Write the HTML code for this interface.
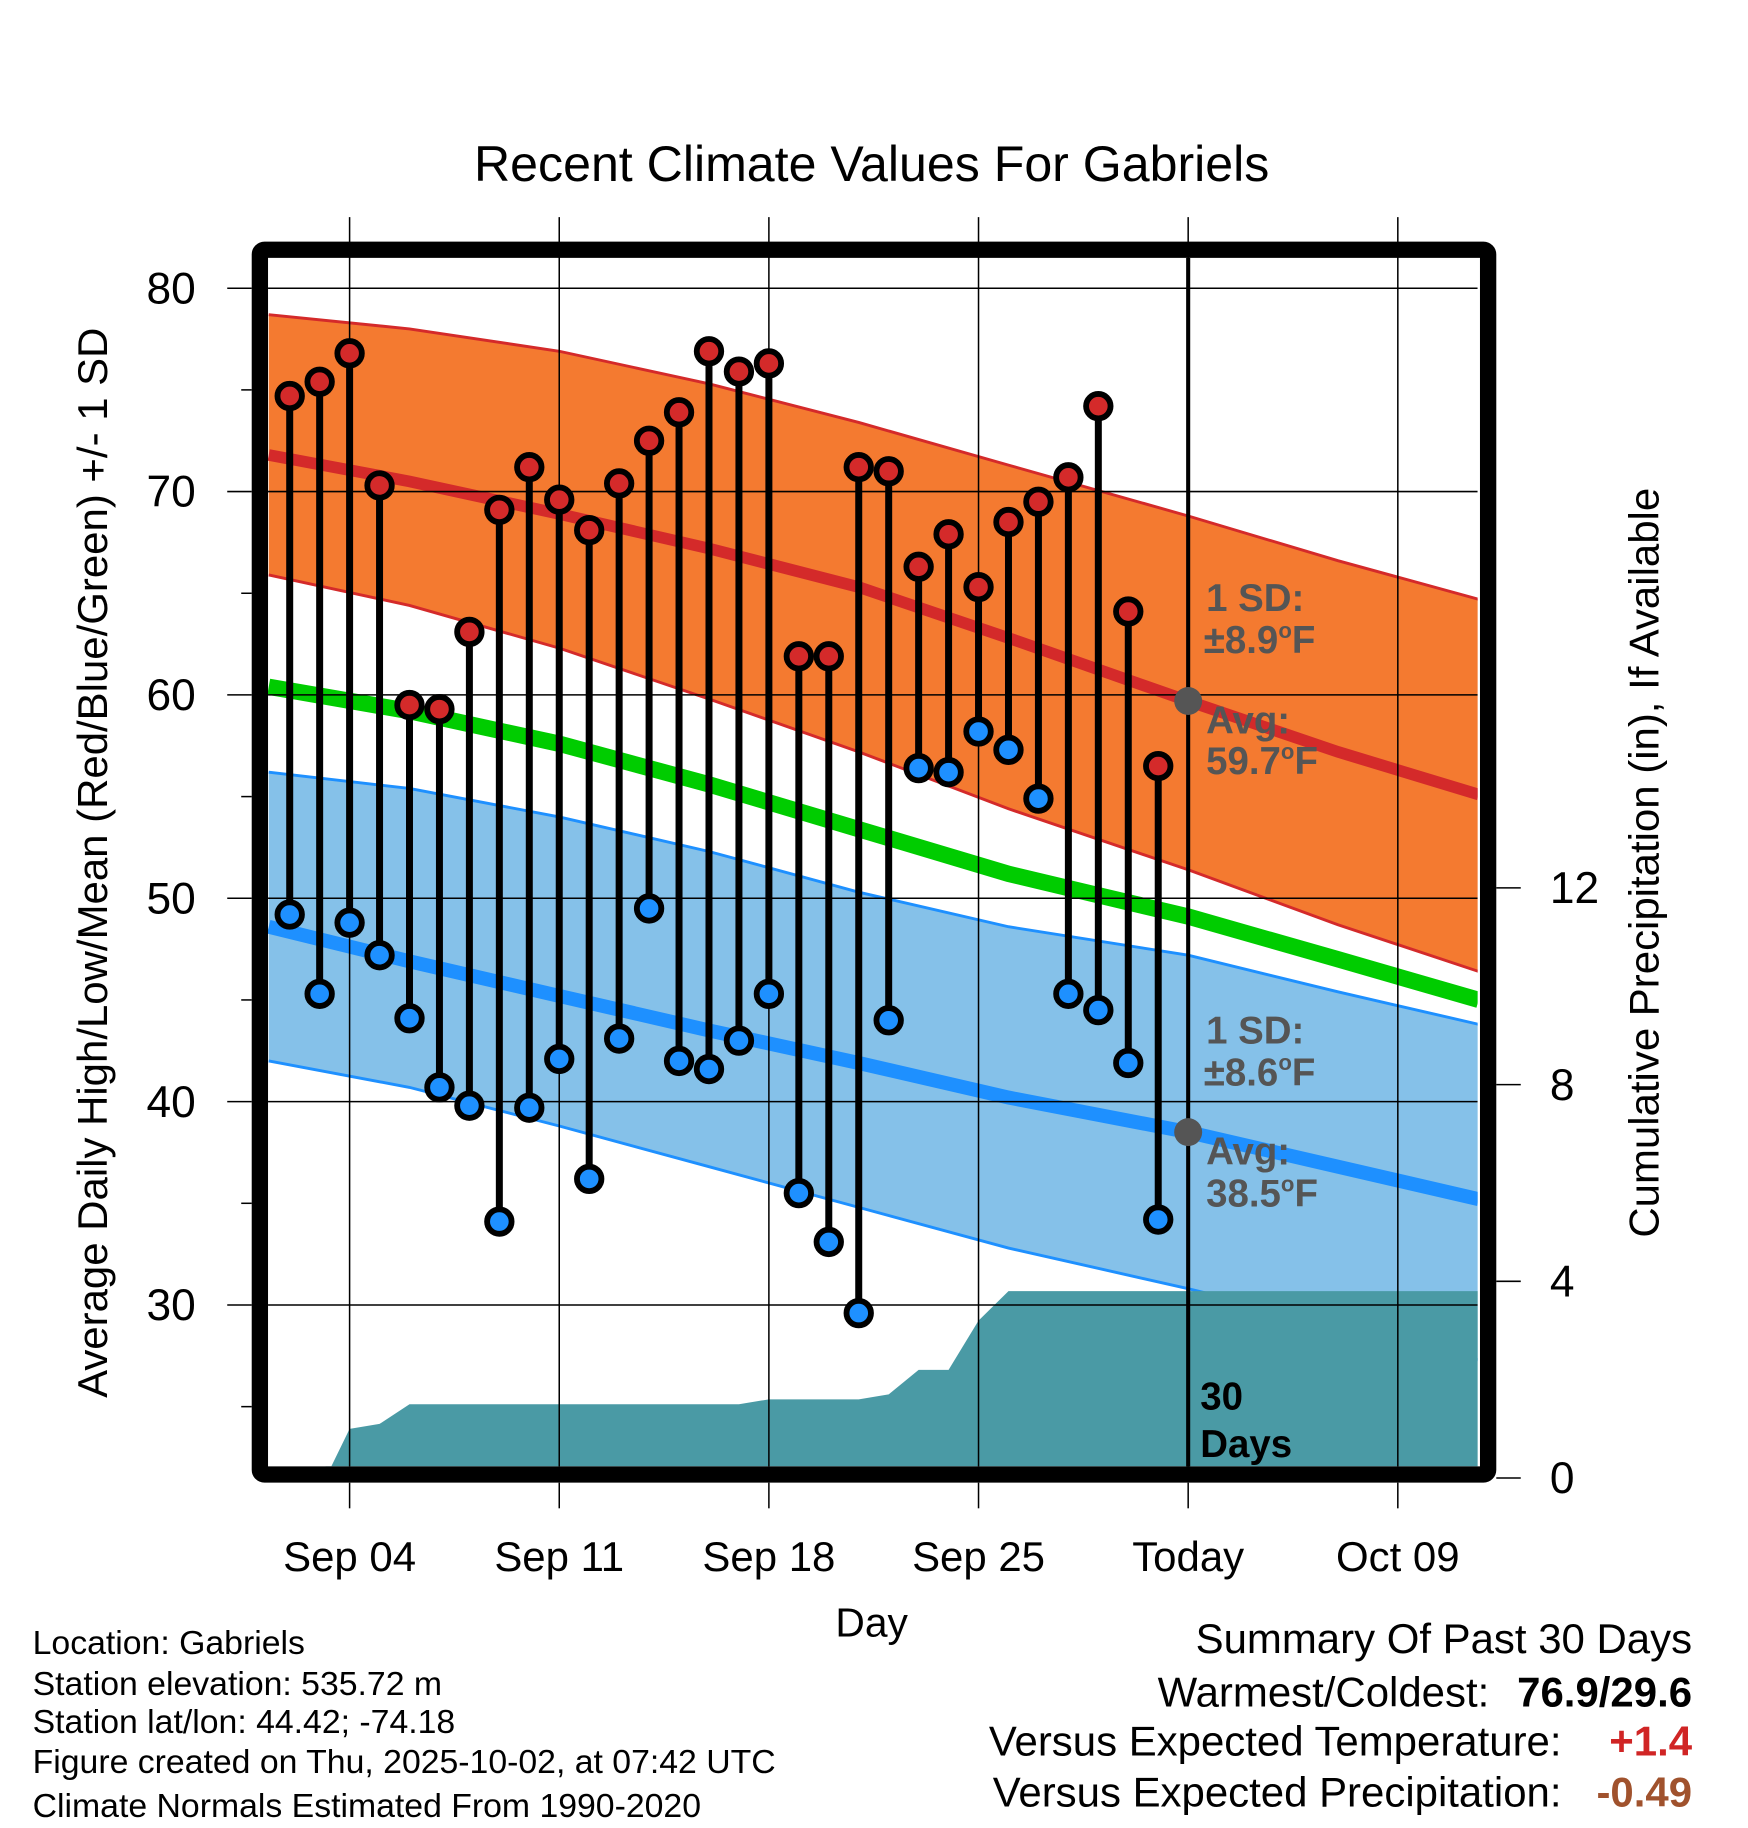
<!DOCTYPE html>
<html><head><meta charset="utf-8"><style>
html,body{margin:0;padding:0;background:#fff;}
svg{display:block;font-family:"Liberation Sans",sans-serif;}
</style></head><body>
<svg id="chart" width="1748" height="1828" viewBox="0 0 1500 1568" xmlns="http://www.w3.org/2000/svg">
<rect width="1500" height="1568" fill="#fff"/>
<text x="748" y="155" font-size="43" text-anchor="middle">Recent Climate Values For Gabriels</text>
<g id="plot"></g>
<text transform="translate(92,740) rotate(-90)" font-size="36" text-anchor="middle">Average Daily High/Low/Mean (Red/Blue/Green) +/- 1 SD</text>
<text transform="translate(1423,740) rotate(-90)" font-size="36" text-anchor="middle">Cumulative Precipitation (in), If Available</text>
<text x="748" y="1404" font-size="35" text-anchor="middle">Day</text>
<g font-size="29">
<text x="28" y="1419">Location: Gabriels</text>
<text x="28" y="1454">Station elevation: 535.72 m</text>
<text x="28" y="1487">Station lat/lon: 44.42; -74.18</text>
<text x="28" y="1521">Figure created on Thu, 2025-10-02, at 07:42 UTC</text>
<text x="28" y="1559">Climate Normals Estimated From 1990-2020</text>
</g>
<g font-size="36">
<text x="1452" y="1418" text-anchor="end">Summary Of Past 30 Days</text>
<text x="1278" y="1464" text-anchor="end">Warmest/Coldest:</text>
<text x="1452" y="1464" text-anchor="end" font-weight="bold">76.9/29.6</text>
<text x="1340" y="1506" text-anchor="end">Versus Expected Temperature:</text>
<text x="1452" y="1506" text-anchor="end" font-weight="bold" fill="#d02525">+1.4</text>
<text x="1340" y="1550" text-anchor="end">Versus Expected Precipitation:</text>
<text x="1452" y="1550" text-anchor="end" font-weight="bold" fill="#a0522d">-0.49</text>
</g>
</svg>
<script>
// data (day index: Sep 1 = 0)
const obsDays = [1,2,3,4,5,6,7,8,9,10,11,12,13,14,15,16,17,18,19,20,21,22,23,24,25,26,27,28,29,30];
const highs = [74.7,75.4,76.8,70.3,59.5,59.3,63.1,69.1,71.2,69.6,68.1,70.4,72.5,73.9,76.9,75.9,76.3,61.9,61.9,71.2,71.0,66.3,67.9,65.3,68.5,69.5,70.7,74.2,64.1,56.5];
const lows = [49.2,45.3,48.8,47.2,44.1,40.7,39.8,34.1,39.7,42.1,36.2,43.1,49.5,42.0,41.6,43.0,45.3,35.5,33.1,29.6,44.0,56.4,56.2,58.2,57.3,54.9,45.3,44.5,41.9,34.2];
const normDays = [0.3,5,10,15,20,25,31,36,40.7];
const highUpper = [78.7,78.0,76.9,75.3,73.4,71.3,68.8,66.6,64.7];
const highMean = [71.8,70.5,68.9,67.2,65.3,62.8,59.7,57.2,55.1];
const highLower = [65.9,64.4,62.3,59.8,57.2,54.4,51.4,48.7,46.4];
const meanTemp = [60.4,59.2,57.6,55.6,53.4,51.2,49.1,47.0,45.0];
const lowUpper = [56.2,55.4,54.0,52.3,50.3,48.6,47.2,45.4,43.8];
const lowMean = [48.6,46.9,45.2,43.5,41.9,40.2,38.5,36.8,35.2];
const lowLower = [42.0,40.7,38.8,36.8,34.8,32.8,30.8,29.0,27.3];
const precipDays = [2.2,3,4,5,16,17,20,21,22,23,24,25,40.7];
const precipVals = [0,1.0,1.1,1.5,1.5,1.6,1.6,1.7,2.2,2.2,3.2,3.8,3.8];
const xTickDays = [3,10,17,24,31,38];
const xTickLabels = ["Sep 04","Sep 11","Sep 18","Sep 25","Today","Oct 09"];
const yTicks = [30,40,50,60,70,80];
const yMinor = [25,35,45,55,65,75];
const y2Ticks = [0,4,8,12];

const NS="http://www.w3.org/2000/svg";
const g=document.getElementById('plot');
const L=230,R=1268,T=221,B=1258;
const X=d=>300+(d-3)*25.7;
const Y=v=>247+(80-v)*17.45;
const Y2=v=>1268-v*42.2;
function el(t,a,p){const e=document.createElementNS(NS,t);for(const k in a)e.setAttribute(k,a[k]);(p||g).appendChild(e);return e;}
const clip=el('clipPath',{id:'cp'});el('rect',{x:L,y:T,width:R-L,height:B-T},clip);
const inner=el('g',{'clip-path':'url(#cp)'});
function pts(ds,vs){return ds.map((d,i)=>X(d)+','+Y(vs[i]));}
function band(up,lo,fill,edge,name){
  const p=pts(normDays,up).concat(pts(normDays,lo).reverse()).join(' ');
  const b=el('polygon',{points:p,fill:fill},inner);
  
  
  el('polyline',{points:pts(normDays,up).join(' '),fill:'none',stroke:edge,'stroke-width':2.5},inner);
  el('polyline',{points:pts(normDays,lo).join(' '),fill:'none',stroke:edge,'stroke-width':2.5},inner);
}
band(highUpper,highLower,'#f47a30','#d42a2a','high-sd-band');
band(lowUpper,lowLower,'#85c1e9','#1e90ff','low-sd-band');
function line(vs,c,w,name){const l=el('polyline',{points:pts(normDays,vs).join(' '),fill:'none',stroke:c,'stroke-width':w},inner);
  
  }
line(highMean,'#d42a2a',10,'normal-high-line');
line(meanTemp,'#00cc00',14,'normal-mean-line');
line(lowMean,'#1e90ff',12,'normal-low-line');
// precip
let pp=[X(precipDays[0])+','+B];
precipDays.forEach((d,i)=>pp.push(X(d)+','+Y2(precipVals[i])));
pp.push(X(precipDays[precipDays.length-1])+','+B);
const pa=el('polygon',{points:pp.join(' '),fill:'#4a9aa5'},inner);


// grid
yTicks.forEach(v=>{el('line',{x1:L,x2:R,y1:Y(v),y2:Y(v),stroke:'#000','stroke-width':1.3},inner);
  el('line',{x1:195,x2:216,y1:Y(v),y2:Y(v),stroke:'#000','stroke-width':1.3});
  const t=el('text',{x:168,y:Y(v)+13,'font-size':38,'text-anchor':'end'});t.textContent=v;
  
  });
yMinor.forEach(v=>el('line',{x1:207,x2:216,y1:Y(v),y2:Y(v),stroke:'#000','stroke-width':1.3}));
y2Ticks.forEach(v=>{el('line',{x1:1284,x2:1305,y1:Y2(v),y2:Y2(v),stroke:'#000','stroke-width':1.3});
  const t=el('text',{x:1330,y:Y2(v)+13,'font-size':38});t.textContent=v;
  
  });
xTickDays.forEach((d,i)=>{el('line',{x1:X(d),x2:X(d),y1:186,y2:B,stroke:'#000','stroke-width':1.3});
  el('line',{x1:X(d),x2:X(d),y1:1272,y2:1294,stroke:'#000','stroke-width':1.3});
  const t=el('text',{x:X(d),y:1348,'font-size':36,'text-anchor':'middle'});t.textContent=xTickLabels[i];
  
  });
// today line
el('line',{x1:X(31),x2:X(31),y1:T,y2:B,stroke:'#000','stroke-width':3.5});
// obs
obsDays.forEach((d,i)=>{
  const s=el('line',{x1:X(d),x2:X(d),y1:Y(highs[i]),y2:Y(lows[i]),stroke:'#000','stroke-width':6});
  
  
  const h=el('circle',{cx:X(d),cy:Y(highs[i]),r:10.5,fill:'#d42a2a',stroke:'#000','stroke-width':5});
  
  
  const lo=el('circle',{cx:X(d),cy:Y(lows[i]),r:10.5,fill:'#1e90ff',stroke:'#000','stroke-width':5});
  
  
});
el('circle',{cx:X(31),cy:Y(highMean[6]),r:12,fill:'#555'});
el('circle',{cx:X(31),cy:Y(lowMean[6]),r:12,fill:'#555'});
function txt(s,x,y,o){const t=el('text',Object.assign({x:x,y:y,'font-size':33,'font-weight':'bold',fill:'#555'},o||{}));t.innerHTML=s;
  
  }
txt('1 SD:',1035,524);txt('±8.9<tspan font-size="19" dy="-13">o</tspan><tspan dy="13">F</tspan>',1033,560);
txt('Avg:',1035,629);txt('59.7<tspan font-size="19" dy="-13">o</tspan><tspan dy="13">F</tspan>',1035,664);
txt('1 SD:',1035,895);txt('±8.6<tspan font-size="19" dy="-13">o</tspan><tspan dy="13">F</tspan>',1033,931);
txt('Avg:',1035,999);txt('38.5<tspan font-size="19" dy="-13">o</tspan><tspan dy="13">F</tspan>',1035,1035);
txt('30',1030,1209,{fill:'#000'});txt('Days',1030,1250,{fill:'#000'});
// frame
const f=el('rect',{x:223,y:214,width:1054,height:1051,fill:'none',stroke:'#000','stroke-width':14,rx:4});


</script>
</body></html>
